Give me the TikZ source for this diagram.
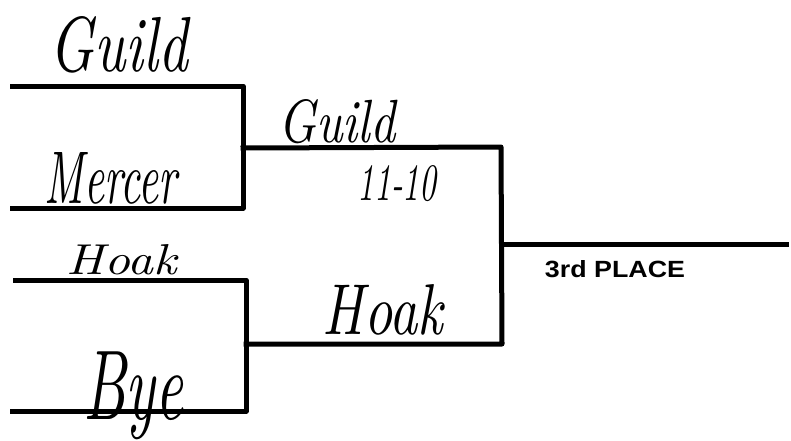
\documentclass[tikz,border=0pt]{standalone}
\usepackage{fontspec}
\usepackage{graphicx}
\setmainfont{Latin Modern Roman}
\newfontfamily\labelfont{Liberation Sans}
\tikzset{
  bracketline/.style={line width=5pt, line cap=rect, line join=round, black},
  hand/.style={inner sep=0pt, font=\itshape},
  placelabel/.style={inner sep=0pt, font=\labelfont\bfseries},
}
\begin{document}
\begin{tikzpicture}[x=1pt,y=-1pt]
\useasboundingbox (0,0) rectangle (791,440);
% first round
\coordinate (a1) at (12,86);
\coordinate (a2) at (243,86);
\coordinate (a3) at (243,208);
\coordinate (a4) at (12,208);
\coordinate (am) at (243,148);
\coordinate (b1) at (15,280);
\coordinate (b2) at (246,280);
\coordinate (b3) at (246,411);
\coordinate (b4) at (12,411);
\coordinate (bm) at (246,344);
% second round
\coordinate (c1) at (501,147);
\coordinate (c2) at (502,344);
\coordinate (cm) at (502,244);
\coordinate (d1) at (786,244);

\draw[bracketline] (a1) -- (a2) -- (a3) -- (a4);
\draw[bracketline] (b1) -- (b2) -- (b3) -- (b4);
\draw[bracketline] (am) -- (c1) -- (c2) -- (bm);
\draw[bracketline] (cm) -- (d1);

% handwritten names
\node[hand] (guild1) at (119,45) {\resizebox{138pt}{55pt}{Guild}};
\node[hand] (mercer) at (111,178) {\resizebox{132pt}{51pt}{Mercer}};
\node[hand] (hoak1) at (122,260) {\resizebox{110pt}{30pt}{Hoak}};
\node[hand] (bye) at (133,396) {\resizebox*{100pt}{88pt}{Bye}};
\node[hand] (guild2) at (337,122) {\resizebox{117pt}{43pt}{Guild}};
\node[hand] (score) at (397,184) {\resizebox{79pt}{35pt}{11-10}};
\node[hand] (hoak2) at (383,310) {\resizebox{120pt}{50pt}{Hoak}};

\node[placelabel] (third) at (615,269) {\resizebox{140pt}{17pt}{3rd PLACE}};
\end{tikzpicture}
\end{document}
